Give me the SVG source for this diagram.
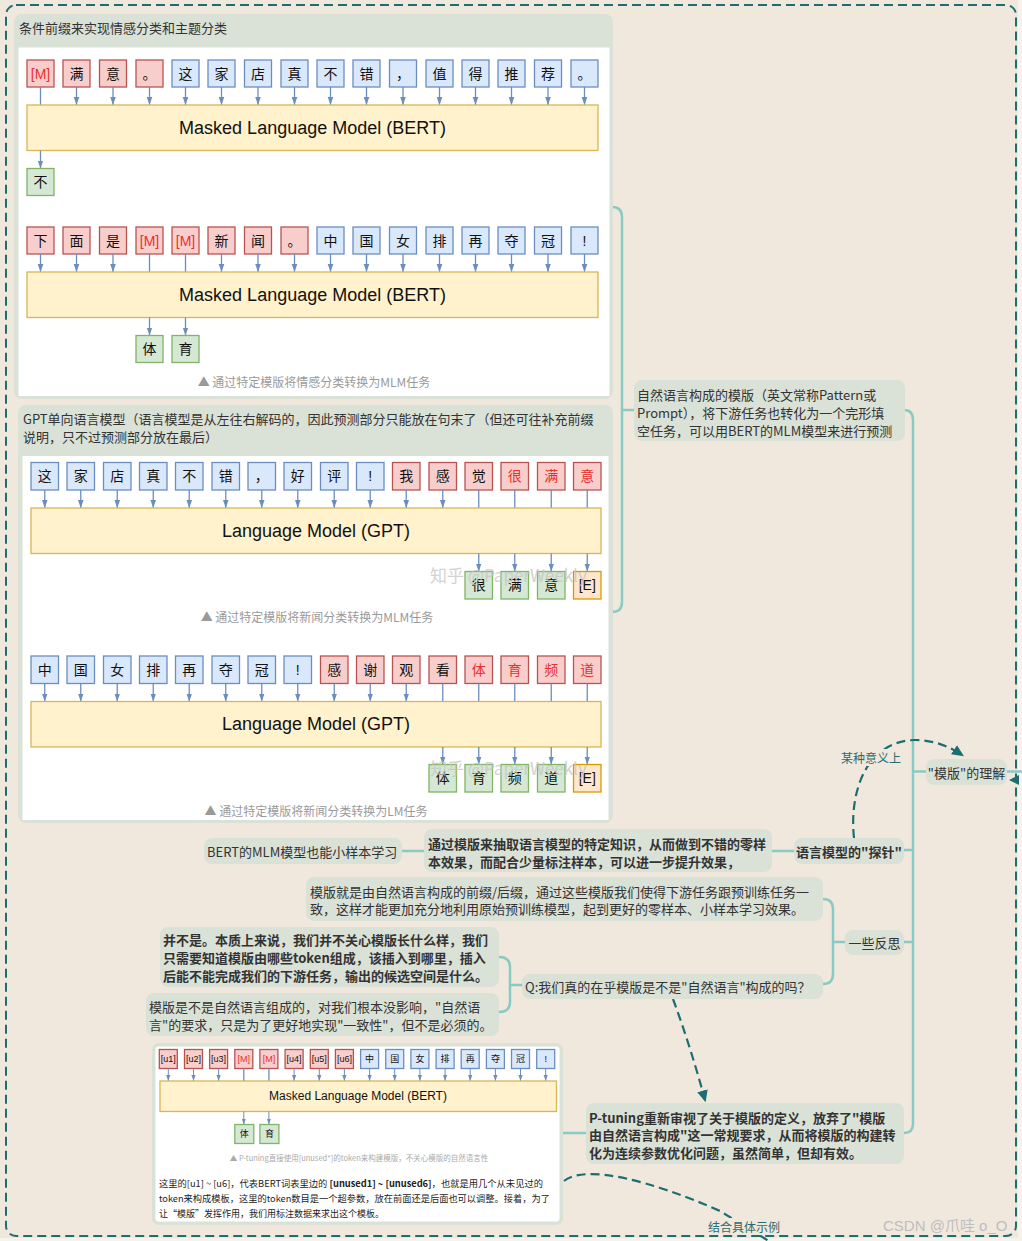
<svg xmlns="http://www.w3.org/2000/svg" width="1022" height="1241" viewBox="0 0 1022 1241">
<defs>
<style>
.bg{fill:#f1e8dd}
.pan{fill:#dae1d6}
.wh{fill:#ffffff}
.tb{fill:#dae8fc;stroke:#6c8ebf;stroke-width:1.3}
.tr{fill:#f8cecc;stroke:#b85450;stroke-width:1.3}
.tg{fill:#d5e8d4;stroke:#82b366;stroke-width:1.3}
.to{fill:#ffe6cc;stroke:#d79b00;stroke-width:1.3}
.mdl{fill:#fff2cc;stroke:#d6b656;stroke-width:1.3}
.tt{font-family:'Liberation Sans','Noto Sans CJK SC',sans-serif;font-size:14px;fill:#111;text-anchor:middle;dominant-baseline:central}
.ts{font-family:'Liberation Sans','Noto Sans CJK SC',sans-serif;font-size:9px;fill:#111;text-anchor:middle;dominant-baseline:central}
.red{fill:#e8302e}
.mt{font-family:'Liberation Sans','Noto Sans CJK SC',sans-serif;font-size:18px;fill:#111;text-anchor:middle;dominant-baseline:central}
.ar{stroke:#6c8ebf;stroke-width:1.3;fill:none}
.ah{stroke:#6c8ebf;stroke-width:1.3;fill:none;marker-end:url(#ah)}
.ahs{stroke:#6c8ebf;stroke-width:1;fill:none;marker-end:url(#ahs)}
.cap{font-family:'Noto Sans CJK SC',sans-serif;font-size:12px;fill:#9a9a9a;text-anchor:middle;dominant-baseline:central}
.ptl{font-family:'Noto Sans CJK SC',sans-serif;font-size:13px;fill:#333;dominant-baseline:central}
.nd{fill:#dae1d6}
.nt{font-family:'Noto Sans CJK SC',sans-serif;font-size:13px;fill:#333;dominant-baseline:central}
.b{font-weight:bold}
.lk{stroke:#88cac4;stroke-width:2.5;fill:none}
.dl{stroke:#1c6e70;stroke-width:2.2;fill:none;stroke-dasharray:9 5}
.lbl{font-family:'Noto Sans CJK SC',sans-serif;font-size:12px;fill:#2b6b70;text-anchor:middle;dominant-baseline:central}
.wm{font-family:'Noto Sans CJK SC',sans-serif;font-size:17px;fill:#c4c4c4;opacity:0.75;dominant-baseline:central}
</style>
<marker id="ah" viewBox="0 0 10 10" refX="10" refY="5" markerWidth="8" markerHeight="8" markerUnits="userSpaceOnUse" orient="auto"><path d="M0,1.5 L10,5 L0,8.5 z" fill="#6c8ebf"/></marker>
<marker id="ahs" viewBox="0 0 10 10" refX="10" refY="5" markerWidth="6" markerHeight="6" markerUnits="userSpaceOnUse" orient="auto"><path d="M0,1.5 L10,5 L0,8.5 z" fill="#6c8ebf"/></marker>
<marker id="ahd" viewBox="0 0 10 10" refX="8" refY="5" markerWidth="12" markerHeight="12" markerUnits="userSpaceOnUse" orient="auto"><path d="M0,0.5 L10,5 L0,9.5 z" fill="#1c6e70"/></marker>
</defs>

<rect class="bg" x="0" y="0" width="1022" height="1241"/>
<rect x="1018" y="0" width="4" height="1241" fill="#f5f3ea"/>
<rect x="0" y="1238" width="1022" height="3" fill="#f5f3ea"/>
<rect x="6" y="5" width="1010" height="1231" rx="10" fill="none" stroke="#1c6e70" stroke-width="2" stroke-dasharray="9 5"/>

<g id="connectors">
<path class="lk" d="M612,207 Q622,207 622,217 L622,602 Q622,612 612,612"/>
<path class="lk" d="M622,410 H634"/>
<path class="lk" d="M904,410 Q913,410 913,420 L913,1124 Q913,1133 904,1133"/>
<path class="lk" d="M913,771.5 H926"/>
<path class="lk" d="M1007,771.5 H1022"/>
<path class="lk" d="M904,850 H913"/>
<path class="lk" d="M904,942 H913"/>
<path class="lk" d="M794,851 H772"/>
<path class="lk" d="M424,851 H402"/>
<path class="lk" d="M823,899 Q833,899 833,909 L833,974 Q833,984 823,984"/>
<path class="lk" d="M833,942 H845"/>
<path class="lk" d="M499,957 Q510,957 510,967 L510,1002 Q510,1012 499,1012"/>
<path class="lk" d="M510,985 H522"/>
<path class="lk" d="M563,1133 H586"/>
<path class="dl" d="M854,838 C849,792 866,741 915,740 C935,740 950,747 962,755" marker-end="url(#ahd)"/>
<path class="dl" d="M673,999 Q690,1045 705,1100" marker-end="url(#ahd)"/>
<path class="dl" d="M564,1181 C585,1164 650,1180 720,1211 L772,1243"/>
<polygon points="1009,780 1019,775 1019,785" fill="#1c6e70"/>
<rect x="838" y="749" width="66" height="17" class="bg"/>
<text class="lbl" x="871" y="757.5">某种意义上</text>
<rect x="705" y="1218" width="80" height="17" class="bg"/>
<text class="lbl" x="744" y="1226">结合具体示例</text>
</g>

<!-- Panel 1 -->
<g id="panel-bert">
<rect class="pan" x="14" y="14" width="599" height="385" rx="8"/>
<text class="ptl" x="19" y="27.5">条件前缀来实现情感分类和主题分类</text>
<rect class="wh" x="18.5" y="47.5" width="591" height="348.5"/>
<g id="row1">
<g><rect class="tr" x="27" y="60" width="27" height="27"/><text class="tt red" x="40.5" y="73.5">[M]</text></g>
<g><rect class="tr" x="63" y="60" width="27" height="27"/><text class="tt" x="76.5" y="73.5">满</text></g>
<g><rect class="tr" x="99.5" y="60" width="27" height="27"/><text class="tt" x="113" y="73.5">意</text></g>
<g><rect class="tr" x="136" y="60" width="27" height="27"/><text class="tt" x="149.5" y="73.5">。</text></g>
<g><rect class="tb" x="172" y="60" width="27" height="27"/><text class="tt" x="185.5" y="73.5">这</text></g>
<g><rect class="tb" x="208" y="60" width="27" height="27"/><text class="tt" x="221.5" y="73.5">家</text></g>
<g><rect class="tb" x="244.5" y="60" width="27" height="27"/><text class="tt" x="258" y="73.5">店</text></g>
<g><rect class="tb" x="281" y="60" width="27" height="27"/><text class="tt" x="294.5" y="73.5">真</text></g>
<g><rect class="tb" x="317" y="60" width="27" height="27"/><text class="tt" x="330.5" y="73.5">不</text></g>
<g><rect class="tb" x="353" y="60" width="27" height="27"/><text class="tt" x="366.5" y="73.5">错</text></g>
<g><rect class="tb" x="389.5" y="60" width="27" height="27"/><text class="tt" x="403" y="73.5">，</text></g>
<g><rect class="tb" x="426" y="60" width="27" height="27"/><text class="tt" x="439.5" y="73.5">值</text></g>
<g><rect class="tb" x="462" y="60" width="27" height="27"/><text class="tt" x="475.5" y="73.5">得</text></g>
<g><rect class="tb" x="498" y="60" width="27" height="27"/><text class="tt" x="511.5" y="73.5">推</text></g>
<g><rect class="tb" x="534.5" y="60" width="27" height="27"/><text class="tt" x="548" y="73.5">荐</text></g>
<g><rect class="tb" x="571" y="60" width="27" height="27"/><text class="tt" x="584.5" y="73.5">。</text></g>
<path class="ar" d="M40.5,87 V105"/>
<path class="ah" d="M76.5,87V105"/><path class="ah" d="M113,87V105"/><path class="ah" d="M149.5,87V105"/><path class="ah" d="M185.5,87V105"/><path class="ah" d="M221.5,87V105"/><path class="ah" d="M258,87V105"/><path class="ah" d="M294.5,87V105"/><path class="ah" d="M330.5,87V105"/><path class="ah" d="M366.5,87V105"/><path class="ah" d="M403,87V105"/><path class="ah" d="M439.5,87V105"/><path class="ah" d="M475.5,87V105"/><path class="ah" d="M511.5,87V105"/><path class="ah" d="M548,87V105"/><path class="ah" d="M584.5,87V105"/>
<rect class="mdl" x="27" y="105" width="571" height="45.5"/>
<text class="mt" x="312.5" y="128">Masked Language Model (BERT)</text>
<path class="ah" d="M40.5,150.5 V168.5"/>
<g><rect class="tg" x="27" y="168.5" width="27" height="27"/><text class="tt" x="40.5" y="182">不</text></g>
</g>
<g id="row2">
<g><rect class="tr" x="27" y="227" width="27" height="27"/><text class="tt" x="40.5" y="240.5">下</text></g>
<g><rect class="tr" x="63" y="227" width="27" height="27"/><text class="tt" x="76.5" y="240.5">面</text></g>
<g><rect class="tr" x="99.5" y="227" width="27" height="27"/><text class="tt" x="113" y="240.5">是</text></g>
<g><rect class="tr" x="136" y="227" width="27" height="27"/><text class="tt red" x="149.5" y="240.5">[M]</text></g>
<g><rect class="tr" x="172" y="227" width="27" height="27"/><text class="tt red" x="185.5" y="240.5">[M]</text></g>
<g><rect class="tr" x="208" y="227" width="27" height="27"/><text class="tt" x="221.5" y="240.5">新</text></g>
<g><rect class="tr" x="244.5" y="227" width="27" height="27"/><text class="tt" x="258" y="240.5">闻</text></g>
<g><rect class="tr" x="281" y="227" width="27" height="27"/><text class="tt" x="294.5" y="240.5">。</text></g>
<g><rect class="tb" x="317" y="227" width="27" height="27"/><text class="tt" x="330.5" y="240.5">中</text></g>
<g><rect class="tb" x="353" y="227" width="27" height="27"/><text class="tt" x="366.5" y="240.5">国</text></g>
<g><rect class="tb" x="389.5" y="227" width="27" height="27"/><text class="tt" x="403" y="240.5">女</text></g>
<g><rect class="tb" x="426" y="227" width="27" height="27"/><text class="tt" x="439.5" y="240.5">排</text></g>
<g><rect class="tb" x="462" y="227" width="27" height="27"/><text class="tt" x="475.5" y="240.5">再</text></g>
<g><rect class="tb" x="498" y="227" width="27" height="27"/><text class="tt" x="511.5" y="240.5">夺</text></g>
<g><rect class="tb" x="534.5" y="227" width="27" height="27"/><text class="tt" x="548" y="240.5">冠</text></g>
<g><rect class="tb" x="571" y="227" width="27" height="27"/><text class="tt" x="584.5" y="240.5">!</text></g>
<path class="ar" d="M149.5,254 V272 M185.5,254 V272"/>
<path class="ah" d="M40.5,254V272"/><path class="ah" d="M76.5,254V272"/><path class="ah" d="M113,254V272"/><path class="ah" d="M221.5,254V272"/><path class="ah" d="M258,254V272"/><path class="ah" d="M294.5,254V272"/><path class="ah" d="M330.5,254V272"/><path class="ah" d="M366.5,254V272"/><path class="ah" d="M403,254V272"/><path class="ah" d="M439.5,254V272"/><path class="ah" d="M475.5,254V272"/><path class="ah" d="M511.5,254V272"/><path class="ah" d="M548,254V272"/><path class="ah" d="M584.5,254V272"/>
<rect class="mdl" x="27" y="272" width="571" height="45.5"/>
<text class="mt" x="312.5" y="295">Masked Language Model (BERT)</text>
<path class="ah" d="M149.5,317.5V335.5"/><path class="ah" d="M185.5,317.5V335.5"/>
<g><rect class="tg" x="136" y="335.5" width="27" height="27"/><text class="tt" x="149.5" y="349">体</text></g>
<g><rect class="tg" x="172" y="335.5" width="27" height="27"/><text class="tt" x="185.5" y="349">育</text></g>
<text class="cap" x="314" y="381.5">▲ 通过特定模版将情感分类转换为MLM任务</text>
</g>
</g>

<!-- Panel 2 -->
<g id="panel-gpt">
<rect class="pan" x="18" y="405" width="595" height="418" rx="8"/>
<text class="ptl" x="23" y="418.5">GPT单向语言模型（语言模型是从左往右解码的，因此预测部分只能放在句末了（但还可往补充前缀</text>
<text class="ptl" x="23" y="436.5">说明，只不过预测部分放在最后）</text>
<rect class="wh" x="22.5" y="456" width="586" height="364"/>
<g id="row3">
<g><rect class="tb" x="31" y="462.5" width="27.5" height="27.5"/><text class="tt" x="44.75" y="476.25">这</text></g>
<g><rect class="tb" x="67" y="462.5" width="27.5" height="27.5"/><text class="tt" x="80.75" y="476.25">家</text></g>
<g><rect class="tb" x="103.5" y="462.5" width="27.5" height="27.5"/><text class="tt" x="117.25" y="476.25">店</text></g>
<g><rect class="tb" x="139.5" y="462.5" width="27.5" height="27.5"/><text class="tt" x="153.25" y="476.25">真</text></g>
<g><rect class="tb" x="175.5" y="462.5" width="27.5" height="27.5"/><text class="tt" x="189.25" y="476.25">不</text></g>
<g><rect class="tb" x="212" y="462.5" width="27.5" height="27.5"/><text class="tt" x="225.75" y="476.25">错</text></g>
<g><rect class="tb" x="248" y="462.5" width="27.5" height="27.5"/><text class="tt" x="261.75" y="476.25">，</text></g>
<g><rect class="tb" x="284" y="462.5" width="27.5" height="27.5"/><text class="tt" x="297.75" y="476.25">好</text></g>
<g><rect class="tb" x="320.5" y="462.5" width="27.5" height="27.5"/><text class="tt" x="334.25" y="476.25">评</text></g>
<g><rect class="tb" x="356.5" y="462.5" width="27.5" height="27.5"/><text class="tt" x="370.25" y="476.25">!</text></g>
<g><rect class="tr" x="392.5" y="462.5" width="27.5" height="27.5"/><text class="tt" x="406.25" y="476.25">我</text></g>
<g><rect class="tr" x="429" y="462.5" width="27.5" height="27.5"/><text class="tt" x="442.75" y="476.25">感</text></g>
<g><rect class="tr" x="465" y="462.5" width="27.5" height="27.5"/><text class="tt" x="478.75" y="476.25">觉</text></g>
<g><rect class="tr" x="501" y="462.5" width="27.5" height="27.5"/><text class="tt red" x="514.75" y="476.25">很</text></g>
<g><rect class="tr" x="537.5" y="462.5" width="27.5" height="27.5"/><text class="tt red" x="551.25" y="476.25">满</text></g>
<g><rect class="tr" x="573.5" y="462.5" width="27.5" height="27.5"/><text class="tt red" x="587.25" y="476.25">意</text></g>
<path class="ah" d="M44.75,490V508"/><path class="ah" d="M80.75,490V508"/><path class="ah" d="M117.25,490V508"/><path class="ah" d="M153.25,490V508"/><path class="ah" d="M189.25,490V508"/><path class="ah" d="M225.75,490V508"/><path class="ah" d="M261.75,490V508"/><path class="ah" d="M297.75,490V508"/><path class="ah" d="M334.25,490V508"/><path class="ah" d="M370.25,490V508"/><path class="ah" d="M406.25,490V508"/><path class="ah" d="M442.75,490V508"/>
<path class="ar" d="M478.75,490 V508 M514.75,490 V508 M551.25,490 V508 M587.25,490 V508"/>
<rect class="mdl" x="31" y="508" width="570" height="45.5"/>
<text class="mt" x="316" y="530.5">Language Model (GPT)</text>
<path class="ah" d="M478.75,553.5V571.5"/><path class="ah" d="M514.75,553.5V571.5"/><path class="ah" d="M551.25,553.5V571.5"/><path class="ah" d="M587.25,553.5V571.5"/>
<g><rect class="tg" x="465" y="571.5" width="27.5" height="27.5"/><text class="tt" x="478.75" y="585.25">很</text></g>
<g><rect class="tg" x="501" y="571.5" width="27.5" height="27.5"/><text class="tt" x="514.75" y="585.25">满</text></g>
<g><rect class="tg" x="537.5" y="571.5" width="27.5" height="27.5"/><text class="tt" x="551.25" y="585.25">意</text></g>
<g><rect class="to" x="573.5" y="571.5" width="27.5" height="27.5"/><text class="tt" x="587.25" y="585.25">[E]</text></g>
<text class="wm" x="430" y="574">知乎 @PaperWeekly</text>
<text class="cap" x="317" y="616">▲ 通过特定模版将新闻分类转换为MLM任务</text>
</g>
<g id="row4">
<g><rect class="tb" x="31" y="656" width="27.5" height="27.5"/><text class="tt" x="44.75" y="669.75">中</text></g>
<g><rect class="tb" x="67" y="656" width="27.5" height="27.5"/><text class="tt" x="80.75" y="669.75">国</text></g>
<g><rect class="tb" x="103.5" y="656" width="27.5" height="27.5"/><text class="tt" x="117.25" y="669.75">女</text></g>
<g><rect class="tb" x="139.5" y="656" width="27.5" height="27.5"/><text class="tt" x="153.25" y="669.75">排</text></g>
<g><rect class="tb" x="175.5" y="656" width="27.5" height="27.5"/><text class="tt" x="189.25" y="669.75">再</text></g>
<g><rect class="tb" x="212" y="656" width="27.5" height="27.5"/><text class="tt" x="225.75" y="669.75">夺</text></g>
<g><rect class="tb" x="248" y="656" width="27.5" height="27.5"/><text class="tt" x="261.75" y="669.75">冠</text></g>
<g><rect class="tb" x="284" y="656" width="27.5" height="27.5"/><text class="tt" x="297.75" y="669.75">!</text></g>
<g><rect class="tr" x="320.5" y="656" width="27.5" height="27.5"/><text class="tt" x="334.25" y="669.75">感</text></g>
<g><rect class="tr" x="356.5" y="656" width="27.5" height="27.5"/><text class="tt" x="370.25" y="669.75">谢</text></g>
<g><rect class="tr" x="392.5" y="656" width="27.5" height="27.5"/><text class="tt" x="406.25" y="669.75">观</text></g>
<g><rect class="tr" x="429" y="656" width="27.5" height="27.5"/><text class="tt" x="442.75" y="669.75">看</text></g>
<g><rect class="tr" x="465" y="656" width="27.5" height="27.5"/><text class="tt red" x="478.75" y="669.75">体</text></g>
<g><rect class="tr" x="501" y="656" width="27.5" height="27.5"/><text class="tt red" x="514.75" y="669.75">育</text></g>
<g><rect class="tr" x="537.5" y="656" width="27.5" height="27.5"/><text class="tt red" x="551.25" y="669.75">频</text></g>
<g><rect class="tr" x="573.5" y="656" width="27.5" height="27.5"/><text class="tt red" x="587.25" y="669.75">道</text></g>
<path class="ah" d="M44.75,683.5V701.5"/><path class="ah" d="M80.75,683.5V701.5"/><path class="ah" d="M117.25,683.5V701.5"/><path class="ah" d="M153.25,683.5V701.5"/><path class="ah" d="M189.25,683.5V701.5"/><path class="ah" d="M225.75,683.5V701.5"/><path class="ah" d="M261.75,683.5V701.5"/><path class="ah" d="M297.75,683.5V701.5"/><path class="ah" d="M334.25,683.5V701.5"/><path class="ah" d="M370.25,683.5V701.5"/><path class="ah" d="M406.25,683.5V701.5"/>
<path class="ar" d="M442.75,683.5 V701.5 M478.75,683.5 V701.5 M514.75,683.5 V701.5 M551.25,683.5 V701.5 M587.25,683.5 V701.5"/>
<rect class="mdl" x="31" y="701.5" width="570" height="45.5"/>
<text class="mt" x="316" y="724">Language Model (GPT)</text>
<path class="ah" d="M442.75,747V764.5"/><path class="ah" d="M478.75,747V764.5"/><path class="ah" d="M514.75,747V764.5"/><path class="ah" d="M551.25,747V764.5"/><path class="ah" d="M587.25,747V764.5"/>
<g><rect class="tg" x="429" y="764.5" width="27.5" height="27.5"/><text class="tt" x="442.75" y="778.25">体</text></g>
<g><rect class="tg" x="465" y="764.5" width="27.5" height="27.5"/><text class="tt" x="478.75" y="778.25">育</text></g>
<g><rect class="tg" x="501" y="764.5" width="27.5" height="27.5"/><text class="tt" x="514.75" y="778.25">频</text></g>
<g><rect class="tg" x="537.5" y="764.5" width="27.5" height="27.5"/><text class="tt" x="551.25" y="778.25">道</text></g>
<g><rect class="to" x="573.5" y="764.5" width="27.5" height="27.5"/><text class="tt" x="587.25" y="778.25">[E]</text></g>
<text class="wm" x="430" y="767">知乎 @PaperWeekly</text>
<text class="cap" x="316" y="810">▲ 通过特定模版将新闻分类转换为LM任务</text>
</g>
</g>

<!-- Inset -->
<g id="inset-ptuning">
<rect class="pan" x="152" y="1043" width="411" height="182" rx="7"/>
<rect class="wh" x="155.5" y="1046.5" width="404" height="175" rx="3"/>
<g><rect class="tr" x="159.3" y="1049.5" width="18" height="19"/><text class="ts" x="168.3" y="1059">[u1]</text></g>
<g><rect class="tr" x="184.5" y="1049.5" width="18" height="19"/><text class="ts" x="193.5" y="1059">[u2]</text></g>
<g><rect class="tr" x="209.6" y="1049.5" width="18" height="19"/><text class="ts" x="218.6" y="1059">[u3]</text></g>
<g><rect class="tr" x="234.8" y="1049.5" width="18" height="19"/><text class="ts red" x="243.8" y="1059">[M]</text></g>
<g><rect class="tr" x="259.9" y="1049.5" width="18" height="19"/><text class="ts red" x="268.9" y="1059">[M]</text></g>
<g><rect class="tr" x="285.1" y="1049.5" width="18" height="19"/><text class="ts" x="294.1" y="1059">[u4]</text></g>
<g><rect class="tr" x="310.3" y="1049.5" width="18" height="19"/><text class="ts" x="319.3" y="1059">[u5]</text></g>
<g><rect class="tr" x="335.4" y="1049.5" width="18" height="19"/><text class="ts" x="344.4" y="1059">[u6]</text></g>
<g><rect class="tb" x="360.6" y="1049.5" width="18" height="19"/><text class="ts" x="369.6" y="1059">中</text></g>
<g><rect class="tb" x="385.7" y="1049.5" width="18" height="19"/><text class="ts" x="394.7" y="1059">国</text></g>
<g><rect class="tb" x="410.9" y="1049.5" width="18" height="19"/><text class="ts" x="419.9" y="1059">女</text></g>
<g><rect class="tb" x="436.1" y="1049.5" width="18" height="19"/><text class="ts" x="445.1" y="1059">排</text></g>
<g><rect class="tb" x="461.2" y="1049.5" width="18" height="19"/><text class="ts" x="470.2" y="1059">再</text></g>
<g><rect class="tb" x="486.4" y="1049.5" width="18" height="19"/><text class="ts" x="495.4" y="1059">夺</text></g>
<g><rect class="tb" x="511.5" y="1049.5" width="18" height="19"/><text class="ts" x="520.5" y="1059">冠</text></g>
<g><rect class="tb" x="536.7" y="1049.5" width="18" height="19"/><text class="ts" x="545.7" y="1059">!</text></g>
<path class="ahs" d="M168.3,1068.5V1081"/><path class="ahs" d="M193.5,1068.5V1081"/><path class="ahs" d="M218.6,1068.5V1081"/><path class="ahs" d="M294.1,1068.5V1081"/><path class="ahs" d="M319.3,1068.5V1081"/><path class="ahs" d="M344.4,1068.5V1081"/><path class="ahs" d="M369.6,1068.5V1081"/><path class="ahs" d="M394.7,1068.5V1081"/><path class="ahs" d="M419.9,1068.5V1081"/><path class="ahs" d="M445.1,1068.5V1081"/><path class="ahs" d="M470.2,1068.5V1081"/><path class="ahs" d="M495.4,1068.5V1081"/><path class="ahs" d="M520.5,1068.5V1081"/><path class="ahs" d="M545.7,1068.5V1081"/>
<path class="ar" stroke-width="1" d="M243.8,1068.5 V1081 M268.9,1068.5 V1081"/>
<rect class="mdl" x="160" y="1081" width="396.5" height="30.5"/>
<text class="mt" style="font-size:12px" x="358" y="1096">Masked Language Model (BERT)</text>
<path class="ahs" d="M243.8,1111.5V1124.5"/><path class="ahs" d="M268.9,1111.5V1124.5"/>
<g><rect class="tg" x="234.8" y="1124.5" width="19" height="19"/><text class="ts" x="244.3" y="1134">体</text></g>
<g><rect class="tg" x="259.9" y="1124.5" width="19" height="19"/><text class="ts" x="269.4" y="1134">育</text></g>
<text class="cap" style="font-size:7.5px;fill:#aaa" x="359" y="1157">▲ P-tuning直接使用[unused*]的token来构建模版，不关心模版的自然语言性</text>
<text class="nt" style="font-size:9px;fill:#222" x="159" y="1183" textLength="384" lengthAdjust="spacingAndGlyphs">这里的[u1] ~ [u6]，代表BERT词表里边的 <tspan font-weight="bold">[unused1] ~ [unused6]</tspan>，也就是用几个从未见过的</text>
<text class="nt" style="font-size:9px;fill:#222" x="159" y="1198" textLength="391" lengthAdjust="spacingAndGlyphs">token来构成模板，这里的token数目是一个超参数，放在前面还是后面也可以调整。接着，为了</text>
<text class="nt" style="font-size:9px;fill:#222" x="159" y="1213">让“模版”发挥作用，我们用标注数据来求出这个模板。</text>
</g>

<!-- Mind-map nodes -->
<g id="n-natural">
<rect class="nd" x="634" y="380" width="271" height="61" rx="8"/>
<text class="nt" x="637" y="394">自然语言构成的模版（英文常称Pattern或</text>
<text class="nt" x="637" y="412">Prompt），将下游任务也转化为一个完形填</text>
<text class="nt" x="637" y="430">空任务，可以用BERT的MLM模型来进行预测</text>
</g>
<g id="n-root">
<rect class="nd" x="926" y="759" width="81" height="26" rx="8"/>
<text class="nt" x="966.5" y="772" text-anchor="middle">"模版"的理解</text>
</g>
<g id="n-probe">
<rect class="nd" x="794" y="838" width="110" height="26" rx="8"/>
<text class="nt b" x="849" y="851" text-anchor="middle">语言模型的"探针"</text>
</g>
<g id="n-probe-desc">
<rect class="nd" x="424" y="829" width="348" height="43" rx="8"/>
<text class="nt b" x="428" y="843">通过模版来抽取语言模型的特定知识，从而做到不错的零样</text>
<text class="nt b" x="428" y="861">本效果，而配合少量标注样本，可以进一步提升效果，</text>
</g>
<g id="n-bert-few">
<rect class="nd" x="204" y="838" width="198" height="26" rx="8"/>
<text class="nt" x="207" y="851.5">BERT的MLM模型也能小样本学习</text>
</g>
<g id="n-reflect">
<rect class="nd" x="845" y="930" width="59" height="25" rx="8"/>
<text class="nt" x="874.5" y="942.5" text-anchor="middle">一些反思</text>
</g>
<g id="n-reflect-1">
<rect class="nd" x="306" y="877" width="517" height="44" rx="8"/>
<text class="nt" x="310" y="891">模版就是由自然语言构成的前缀/后缀，通过这些模版我们使得下游任务跟预训练任务一</text>
<text class="nt" x="310" y="908.5">致，这样才能更加充分地利用原始预训练模型，起到更好的零样本、小样本学习效果。</text>
</g>
<g id="n-q">
<rect class="nd" x="522" y="974" width="301" height="25" rx="8"/>
<text class="nt" x="525" y="986">Q:我们真的在乎模版是不是"自然语言"构成的吗？</text>
</g>
<g id="n-q-a1">
<rect class="nd" x="160" y="927" width="339" height="60" rx="8"/>
<text class="nt b" x="163" y="939.5">并不是。本质上来说，我们并不关心模版长什么样，我们</text>
<text class="nt b" x="163" y="957.5">只需要知道模版由哪些token组成，该插入到哪里，插入</text>
<text class="nt b" x="163" y="975.5">后能不能完成我们的下游任务，输出的候选空间是什么。</text>
</g>
<g id="n-q-a2">
<rect class="nd" x="146" y="993" width="353" height="43" rx="8"/>
<text class="nt" x="149" y="1006">模版是不是自然语言组成的，对我们根本没影响，"自然语</text>
<text class="nt" x="149" y="1024">言"的要求，只是为了更好地实现"一致性"，但不是必须的。</text>
</g>
<g id="n-ptuning">
<rect class="nd" x="586" y="1103" width="318" height="61" rx="8"/>
<text class="nt b" x="589" y="1117">P-tuning重新审视了关于模版的定义，放弃了"模版</text>
<text class="nt b" x="589" y="1134.5">由自然语言构成"这一常规要求，从而将模版的构建转</text>
<text class="nt b" x="589" y="1152">化为连续参数优化问题，虽然简单，但却有效。</text>
</g>

<text x="883" y="1225" style="font-family:'Liberation Sans','Noto Sans CJK SC',sans-serif;font-size:15px;fill:#bdbdbd;dominant-baseline:central">CSDN @爪哇 o_O</text>
</svg>
